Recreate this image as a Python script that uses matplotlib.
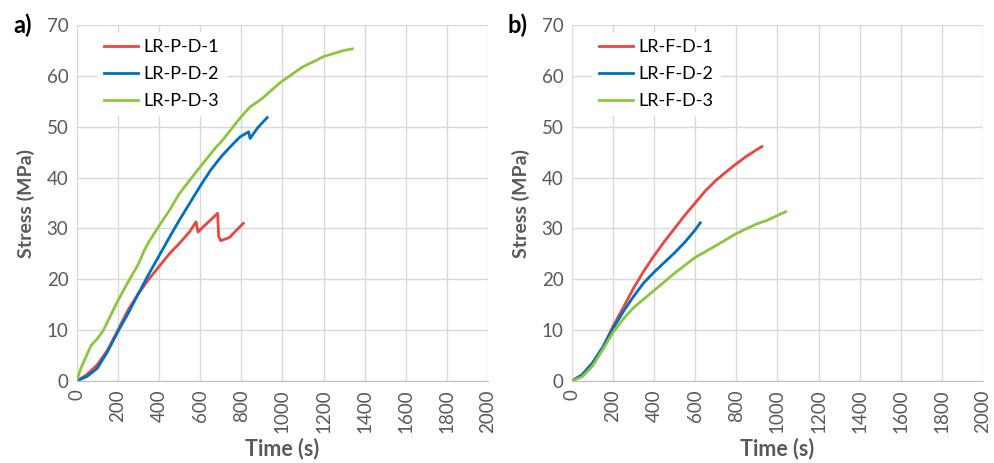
import matplotlib as mpl
mpl.use('agg')
import matplotlib.pyplot as plt

plt.rc('font', family=['Lato', 'DejaVu Sans'])

# series (time in s, stress in MPa)
p1_t = [0, 50, 100, 150, 200, 250, 300, 350, 400, 450, 500, 550, 580, 590, 620, 660, 685, 690, 700, 742, 778, 810]
p1_s = [0, 1.3, 3.2, 6.1, 10, 14, 17.2, 20.0, 22.5, 25.0, 27.1, 29.4, 31.3, 29.3, 30.5, 32, 33.0, 28.5, 27.6, 28.2, 29.7, 31.0]

p2_t = [0, 50, 100, 150, 200, 250, 300, 350, 400, 450, 500, 550, 600, 650, 700, 750, 794, 836, 843, 880, 926]
p2_s = [0, 0.9, 2.5, 5.8, 9.7, 13.3, 17.2, 21, 24.6, 28.2, 31.7, 35, 38.3, 41.4, 44.0, 46.2, 48.0, 49.0, 47.7, 49.8, 51.8]

p3_t = [0, 20, 70, 100, 130, 200, 250, 300, 330, 350, 400, 450, 500, 600, 680, 700, 800, 843, 900, 990, 1100, 1167, 1200, 1300, 1340]
p3_s = [0, 2.5, 7.0, 8.3, 10, 15.8, 19.5, 23, 25.8, 27.3, 30.5, 33.5, 36.9, 42.1, 46.1, 46.9, 52, 53.9, 55.5, 58.7, 61.8, 63.1, 63.8, 65.0, 65.3]

f1_t = [0, 50, 100, 150, 200, 250, 300, 350, 400, 450, 500, 550, 600, 650, 700, 750, 800, 850, 900, 925]
f1_s = [0, 1.2, 3.5, 6.5, 10.7, 14.4, 18.2, 21.6, 24.6, 27.4, 30.0, 32.6, 35.0, 37.4, 39.4, 41.1, 42.7, 44.2, 45.5, 46.1]

f2_t = [0, 50, 100, 150, 200, 250, 300, 350, 400, 450, 500, 550, 600, 625]
f2_s = [0, 1.2, 3.5, 6.6, 10.3, 13.6, 16.6, 19.3, 21.4, 23.3, 25.2, 27.3, 29.7, 31.1]

f3_t = [0, 50, 100, 150, 200, 250, 300, 400, 500, 600, 700, 800, 900, 950, 1040]
f3_s = [0, 0.8, 2.9, 6.1, 9.5, 12.2, 14.4, 17.8, 21.2, 24.3, 26.6, 29.0, 30.9, 31.6, 33.3]

red = '#E8463F'
blue = '#0070C0'
green = '#8CC63E'
grey = '#595959'

fig = plt.figure(figsize=(9.95, 4.63), dpi=100)
ax_a = fig.add_axes([0.0771, 0.177, 0.4134, 0.769])
ax_b = fig.add_axes([0.5746, 0.177, 0.4134, 0.769])

panels = [
    (ax_a, 'a)', [(p1_t, p1_s, red, 'LR-P-D-1'), (p2_t, p2_s, blue, 'LR-P-D-2'), (p3_t, p3_s, green, 'LR-P-D-3')]),
    (ax_b, 'b)', [(f1_t, f1_s, red, 'LR-F-D-1'), (f2_t, f2_s, blue, 'LR-F-D-2'), (f3_t, f3_s, green, 'LR-F-D-3')]),
]

for ax, tag, series in panels:
    for t, s, c, lab in series:
        ax.plot(t, s, color=c, lw=2.0, label=lab)
    ax.set_xlim(0, 2000)
    ax.set_ylim(0, 70)
    ax.set_xticks(range(0, 2001, 200))
    ax.set_yticks(range(0, 71, 10))
    ax.tick_params(axis='x', labelrotation=90)
    ax.tick_params(length=0, labelsize=13.5, labelcolor=grey, pad=6)
    ax.grid(True, color='#D9D9D9', lw=1)
    ax.set_axisbelow(True)
    for side in ['top', 'right', 'left']:
        ax.spines[side].set_visible(False)
    ax.spines['bottom'].set_color('#BFBFBF')
    ax.set_xlabel('Time (s)', fontsize=15.5, fontweight='bold', color=grey, labelpad=3)
    ax.set_ylabel('Stress (MPa)', fontsize=14, fontweight='bold', color=grey, labelpad=8)
    leg = ax.legend(loc='upper left', bbox_to_anchor=(0.04, 0.99), frameon=True, fontsize=13,
                    handlelength=1.9, handletextpad=0.3, labelspacing=0.6, borderaxespad=0.2)
    leg.get_frame().set_edgecolor('none')
    leg.get_frame().set_facecolor('white')
    leg.get_frame().set_alpha(1)
    ax.text(-0.155, 1.0, tag, transform=ax.transAxes, fontsize=17, fontweight='bold',
            va='center', ha='left', color='black')

fig.savefig('out.png', dpi=100)
